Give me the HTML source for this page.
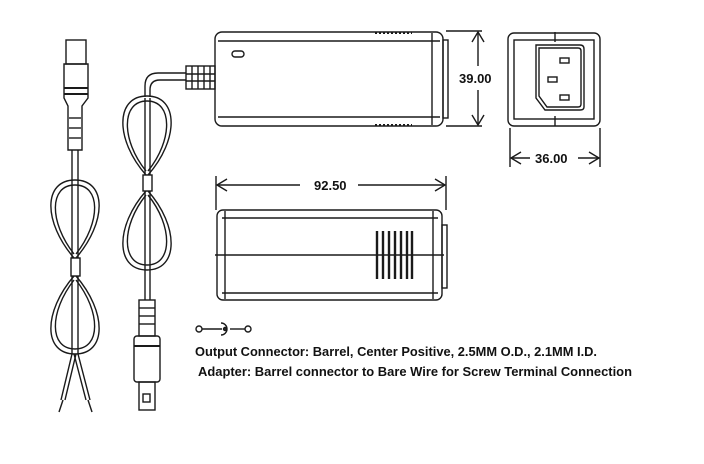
<!DOCTYPE html>
<html><head><meta charset="utf-8"><style>
html,body{margin:0;padding:0;background:#fff;width:704px;height:464px;overflow:hidden}
svg{display:block}
text{font-family:"Liberation Sans",Arial,sans-serif;font-weight:bold;fill:#111}
</style></head><body>
<svg width="704" height="464" viewBox="0 0 704 464" fill="none" stroke="#1a1a1a" stroke-width="1.4">
<!-- top view -->
<rect x="215" y="32" width="228" height="94" rx="7"/>
<line x1="218" y1="41" x2="440" y2="41"/>
<line x1="218" y1="117" x2="440" y2="117"/>
<line x1="432" y1="33" x2="432" y2="125"/>
<rect x="443" y="40" width="5" height="78"/>
<rect x="232" y="51" width="12" height="6" rx="3"/>
<line x1="375" y1="33" x2="412" y2="33" stroke-dasharray="2,2" stroke-width="2"/>
<line x1="375" y1="125" x2="412" y2="125" stroke-dasharray="2,2" stroke-width="2"/>
<!-- strain relief top -->
<rect x="186" y="66" width="29" height="23"/>
<line x1="192" y1="66" x2="192" y2="89"/><line x1="198" y1="66" x2="198" y2="89"/><line x1="204" y1="66" x2="204" y2="89"/><line x1="210" y1="66" x2="210" y2="89"/>
<line x1="186" y1="74" x2="215" y2="74"/><line x1="186" y1="81" x2="215" y2="81"/>
<!-- 39 dimension -->
<line x1="446" y1="31" x2="482" y2="31"/><line x1="446" y1="126" x2="482" y2="126"/>
<line x1="478" y1="32" x2="478" y2="66"/><line x1="478" y1="90" x2="478" y2="125"/>
<polyline points="472,42 478,32 484,42"/><polyline points="472,115 478,125 484,115"/>
<text x="459" y="83" font-size="13" stroke="none">39.00</text>
<!-- end view -->
<rect x="508" y="33" width="92" height="93" rx="6"/>
<rect x="514" y="40" width="80" height="79"/>
<line x1="555" y1="32" x2="555" y2="42"/><line x1="555" y1="116" x2="555" y2="126"/>
<path d="M536 45 H580 Q584 45 584 49 V107 Q584 110 580 110 H545 L536 98 V60 Z"/>
<path d="M539 48 H578 Q581 48 581 51 V104 Q581 107 578 107 H547 L539 96 V62 Z"/>
<rect x="560" y="58" width="9" height="5"/><rect x="548" y="77" width="9" height="5"/><rect x="560" y="95" width="9" height="5"/>
<!-- 36 dim -->
<line x1="510" y1="128" x2="510" y2="167"/><line x1="600" y1="128" x2="600" y2="167"/>
<line x1="511" y1="158" x2="530" y2="158"/><line x1="578" y1="158" x2="599" y2="158"/>
<polyline points="521,152 511,158 521,164"/><polyline points="589,152 599,158 589,164"/>
<text x="535" y="163" font-size="13" stroke="none">36.00</text>
<!-- 92.50 dim -->
<line x1="216" y1="176" x2="216" y2="210"/><line x1="446" y1="176" x2="446" y2="210"/>
<line x1="217" y1="185" x2="300" y2="185"/><line x1="358" y1="185" x2="445" y2="185"/>
<polyline points="227,179 217,185 227,191"/><polyline points="435,179 445,185 435,191"/>
<text x="314" y="190" font-size="13" stroke="none">92.50</text>
<!-- side view -->
<rect x="217" y="210" width="225" height="90" rx="6"/>
<line x1="222" y1="218" x2="438" y2="218"/><line x1="222" y1="293" x2="438" y2="293"/>
<line x1="225" y1="211" x2="225" y2="299"/><line x1="433" y1="211" x2="433" y2="299"/>
<line x1="215" y1="255" x2="444" y2="255"/>
<rect x="442" y="225" width="5" height="63"/>
<g stroke-width="2.4"><line x1="377" y1="231" x2="377" y2="279"/><line x1="383" y1="231" x2="383" y2="279"/><line x1="389" y1="231" x2="389" y2="279"/><line x1="395" y1="231" x2="395" y2="279"/><line x1="401" y1="231" x2="401" y2="279"/><line x1="407" y1="231" x2="407" y2="279"/><line x1="412" y1="231" x2="412" y2="279"/></g>
<!-- cable 2 from adapter -->
<path d="M186 73 H158 Q145 73 145 86 V97"/>
<path d="M186 80 H160 Q150 80 150 90 V97"/>
<path d="M146 175 C115 140 115 96 147 96 C179 96 179 140 148 175"/>
<path d="M146 171 C121 140 121 101 147 101 C173 101 173 140 148 171"/>
<line x1="145" y1="98" x2="145" y2="175"/><line x1="150" y1="98" x2="150" y2="175"/>
<rect x="143" y="175" width="9" height="16"/>
<path d="M146 191 C115 226 115 270 147 270 C179 270 179 226 148 191"/>
<path d="M146 195 C121 226 121 265 147 265 C173 265 173 226 148 195"/>
<line x1="145" y1="191" x2="145" y2="300"/><line x1="150" y1="191" x2="150" y2="300"/>
<rect x="139" y="300" width="16" height="36"/>
<line x1="139" y1="308" x2="155" y2="308"/><line x1="139" y1="316" x2="155" y2="316"/><line x1="139" y1="324" x2="155" y2="324"/>
<rect x="134" y="336" width="26" height="46" rx="3"/>
<line x1="134" y1="346" x2="160" y2="346" stroke-width="2"/>
<rect x="139" y="382" width="16" height="28"/>
<rect x="143" y="394" width="7" height="8"/>
<!-- cable 1 left -->
<rect x="66" y="40" width="20" height="24"/>
<path d="M64 64 H88 V98 L82 106 V150 H68 V106 L64 98 Z"/>
<line x1="64" y1="88" x2="88" y2="88" stroke-width="2"/><line x1="64" y1="94" x2="88" y2="94" stroke-width="2"/>
<line x1="69" y1="118" x2="81" y2="118"/><line x1="69" y1="128" x2="81" y2="128"/><line x1="69" y1="138" x2="81" y2="138"/>
<line x1="72" y1="150" x2="72" y2="180"/><line x1="78" y1="150" x2="78" y2="180"/>
<path d="M74 258 C43 222 43 180 75 180 C107 180 107 222 76 258"/>
<path d="M74 254 C49 222 49 185 75 185 C101 185 101 222 76 254"/>
<line x1="72" y1="180" x2="72" y2="258"/><line x1="78" y1="180" x2="78" y2="258"/>
<rect x="71" y="258" width="9" height="18"/>
<path d="M74 276 C43 312 43 354 75 354 C107 354 107 312 76 276"/>
<path d="M74 280 C49 312 49 349 75 349 C101 349 101 312 76 280"/>
<line x1="72" y1="276" x2="72" y2="354"/><line x1="78" y1="276" x2="78" y2="354"/>
<path d="M72 354 L61 400 M76 354 L65 400"/><path d="M74 354 L86 400 M78 354 L90 400"/>
<line x1="63" y1="400" x2="59" y2="412"/><line x1="88" y1="400" x2="92" y2="412"/>
<!-- polarity symbol -->
<circle cx="199" cy="329" r="3"/><line x1="202" y1="329" x2="222" y2="329"/><circle cx="225" cy="329" r="1.5" fill="#333"/>
<path d="M221 323 A6 6 0 1 1 221 335"/><line x1="230" y1="329" x2="245" y2="329"/><circle cx="248" cy="329" r="3"/>
<text x="195" y="356" font-size="12.5" stroke="none" textLength="402" lengthAdjust="spacingAndGlyphs">Output Connector: Barrel, Center Positive, 2.5MM O.D., 2.1MM I.D.</text>
<text x="198" y="376" font-size="12.5" stroke="none" textLength="434" lengthAdjust="spacingAndGlyphs">Adapter: Barrel connector to Bare Wire for Screw Terminal Connection</text>
</svg>
</body></html>
